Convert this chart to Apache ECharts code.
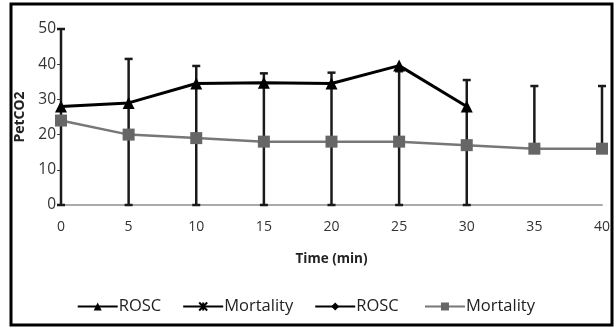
<!DOCTYPE html>
<html>
<head>
<meta charset="utf-8">
<script src="https://cdn.jsdelivr.net/npm/echarts@6/dist/echarts.min.js"></script>
<style>
  html, body { margin: 0; padding: 0; background: #fff; }
  #chart { width: 616px; height: 329px; }
</style>
</head>
<body>
<div id="chart"></div>
<script>
  // time points (min)
  const times = ['0', '5', '10', '15', '20', '25', '30', '35', '40'];
  // mean PetCO2
  const rosc = [28, 29, 34.5, 34.7, 34.5, 39.6, 28];
  const mortality = [24, 20, 19, 18, 18, 18, 17, 16, 16];
  // error bars
  const errLow = [0, 0, 0, 0, 0, 0, 0, 16, 16];
  const errHigh = [50, 41.5, 39.5, 37.4, 37.6, 38, 35.5, 33.8, 33.8];
  const yTicks = [0, 10, 20, 30, 40, 50];

  const font = 'Open Sans';
  const crossPath = 'path://M0,0L10,10M10,0L0,10M5,0L5,10';

  const mychart = echarts.init(document.getElementById('chart'));

  const errData = times.map((t, i) => [i, errLow[i], errHigh[i]]);

  mychart.setOption({
    animation: false,
    textStyle: { fontFamily: font },
    grid: { left: 61, right: 14, top: 29, bottom: 124 },
    graphic: [{
      type: 'rect',
      shape: { x: 11, y: 4, width: 601, height: 321 },
      style: { fill: 'none', stroke: '#000', lineWidth: 3 },
      z: 100
    }],
    legend: {
      top: 293,
      left: 'center',
      itemWidth: 40,
      itemHeight: 10,
      itemGap: 21,
      data: ['ROSC', 'Mortality', 'ROSC ', 'Mortality '],
      textStyle: { color: '#222', fontSize: 16.5, fontFamily: font, padding: [0, 0, 0, -4] }
    },
    xAxis: {
      type: 'category',
      data: times,
      boundaryGap: false,
      name: 'Time (min)',
      nameLocation: 'middle',
      nameGap: 47,
      nameTextStyle: { color: '#222', fontSize: 13.5, fontWeight: 'bold', fontFamily: font },
      axisLine: { lineStyle: { color: '#aaa', width: 2 } },
      axisTick: { show: false },
      axisLabel: { color: '#333', fontSize: 14, margin: 15 },
      splitLine: { show: false }
    },
    yAxis: {
      type: 'value',
      min: yTicks[0],
      max: yTicks[yTicks.length - 1],
      interval: 10,
      name: 'PetCO2',
      nameLocation: 'middle',
      nameGap: 30,
      nameTextStyle: { color: '#222', fontSize: 14, fontWeight: 'bold', fontFamily: font },
      axisLine: { show: true, lineStyle: { color: '#222', width: 2 } },
      axisTick: { show: true, length: 4, lineStyle: { color: '#444' } },
      axisLabel: { color: '#333', fontSize: 15.5, margin: 5 },
      splitLine: { show: false }
    },
    series: [
      {
        name: 'errors',
        type: 'custom',
        z: 1,
        data: errData,
        renderItem: (params, api) => {
          const idx = api.value(0);
          const lo = api.coord([idx, api.value(1)]);
          const hi = api.coord([idx, api.value(2)]);
          const w = 4;
          const st = { stroke: '#1a1a1a', lineWidth: 2.5 };
          return {
            type: 'group',
            children: [
              { type: 'line', shape: { x1: lo[0], y1: lo[1], x2: hi[0], y2: hi[1] }, style: st },
              { type: 'line', shape: { x1: lo[0] - w, y1: lo[1], x2: lo[0] + w, y2: lo[1] }, style: st },
              { type: 'line', shape: { x1: hi[0] - w, y1: hi[1], x2: hi[0] + w, y2: hi[1] }, style: st }
            ]
          };
        }
      },
      {
        name: 'ROSC',
        type: 'line',
        z: 5,
        data: rosc,
        symbol: 'triangle',
        symbolSize: 12,
        lineStyle: { color: '#000', width: 3 },
        itemStyle: { color: '#000' }
      },
      {
        name: 'Mortality',
        type: 'line',
        data: [],
        symbol: crossPath,
        symbolSize: 10,
        lineStyle: { color: '#000', width: 2 },
        itemStyle: { color: '#fff', borderColor: '#000', borderWidth: 1.5 }
      },
      {
        name: 'ROSC ',
        type: 'line',
        data: [],
        symbol: 'diamond',
        symbolSize: 10,
        lineStyle: { color: '#000', width: 3 },
        itemStyle: { color: '#000' }
      },
      {
        name: 'Mortality ',
        type: 'line',
        z: 4,
        data: mortality,
        symbol: 'rect',
        symbolSize: 12,
        lineStyle: { color: '#777', width: 2.5 },
        itemStyle: { color: '#666' }
      }
    ]
  });
</script>
</body>
</html>
